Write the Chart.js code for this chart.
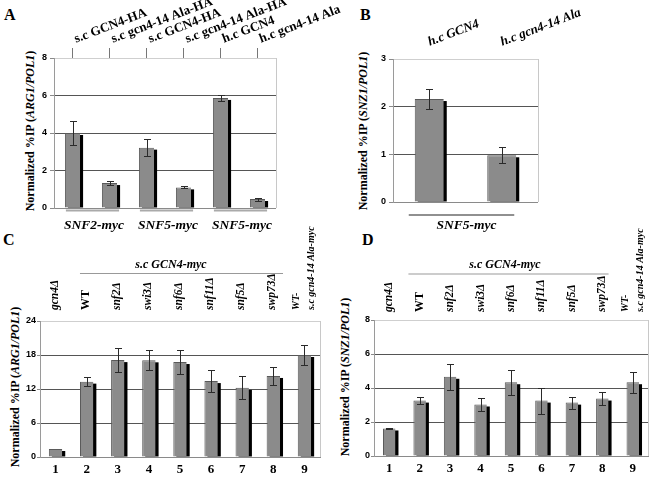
<!DOCTYPE html>
<html><head><meta charset="utf-8">
<script src="https://cdn.jsdelivr.net/npm/chart.js@4.4.1/dist/chart.umd.min.js"></script>
<style>
body{margin:0;background:#fff;width:652px;height:478px;position:relative;overflow:hidden;font-family:"Liberation Serif",serif;}
canvas{position:absolute;}
.letter{position:absolute;font:bold 16px "Liberation Serif",serif;color:#000;line-height:16px;}
.yt{position:absolute;font:bold 12px "Liberation Serif",serif;white-space:nowrap;transform:translate(-50%,-50%) rotate(-90deg);color:#000;}
</style></head><body>
<div class="letter" style="left:4px;top:7px">A</div>
<div class="letter" style="left:360px;top:7px">B</div>
<div class="letter" style="left:3px;top:232px">C</div>
<div class="letter" style="left:362px;top:232px">D</div>
<div class="yt" style="left:30px;top:131px">Normalized %IP (<i>ARG1/POL1</i>)</div>
<div class="yt" style="left:363px;top:131px">Normalized %IP (<i>SNZ1/POL1</i>)</div>
<div class="yt" style="left:15px;top:387px">Normalized %IP (<i>ARG1/POL1</i>)</div>
<div class="yt" style="left:345px;top:377px">Normalized %IP (<i>SNZ1/POL1</i>)</div>
<canvas id="cA" width="360" height="240" style="left:0;top:0"></canvas>
<canvas id="cB" width="322" height="240" style="left:330px;top:0"></canvas>
<canvas id="cC" width="330" height="253" style="left:0;top:225px"></canvas>
<canvas id="cD" width="322" height="253" style="left:330px;top:225px"></canvas>
<script>
// ---------- data ----------
const aTopLabels = ['s.c GCN4-HA','s.c gcn4-14 Ala-HA','s.c GCN4-HA','s.c gcn4-14 Ala-HA','h.c GCN4','h.c gcn4-14 Ala'];
const aValues = [4.0, 1.33, 3.22, 1.1, 5.87, 0.48];
const aErrors = [0.62, 0.12, 0.45, 0.05, 0.15, 0.08];
const aGroups = [{text:'SNF2-myc',from:0,to:1},{text:'SNF5-myc',from:2,to:3},{text:'SNF5-myc',from:4,to:5}];
const aYMax = 8, aYStep = 2;

const bTopLabels = ['h.c GCN4','h.c gcn4-14 Ala'];
const bValues = [2.16, 0.98];
const bErrors = [0.21, 0.17];
const bGroups = [{text:'SNF5-myc',from:0,to:1}];
const bYMax = 3, bYStep = 1;

const strainLabels = ['gcn4\u0394','WT','snf2\u0394','swi3\u0394','snf6\u0394','snf11\u0394','snf5\u0394','swp73\u0394',['WT-','s.c gcn4-14 Ala-myc']];
const laneNumbers = ['1','2','3','4','5','6','7','8','9'];
const strainGroups = [{text:'s.c GCN4-myc',from:1,to:7}];

const cValues = [1.41, 13.3, 17.1, 17.06, 16.76, 13.4, 12.2, 14.3, 18.0];
const cErrors = [0, 0.8, 2.1, 1.75, 2.05, 1.95, 2.05, 1.6, 1.7];
const cYMax = 24, cYStep = 6;

const dValues = [1.62, 3.26, 4.66, 3.03, 4.34, 3.26, 3.14, 3.38, 4.34];
const dErrors = [0.05, 0.23, 0.77, 0.38, 0.73, 0.76, 0.36, 0.4, 0.63];
const dYMax = 8, dYStep = 2;

// ---------- plugin: frame, shadow, error bars, group marks ----------
const decor = {
  id:'decor',
  beforeDraw(chart){
    const a=chart.chartArea,c=chart.ctx;
    c.save();c.strokeStyle='#c8c8c8';c.lineWidth=1;c.beginPath();
    const x=Math.round(a.right)+0.5;c.moveTo(x,a.top);c.lineTo(x,a.bottom);c.stroke();c.restore();
  },
  beforeDatasetsDraw(chart){
    const c=chart.ctx,meta=chart.getDatasetMeta(0);
    c.save();c.fillStyle='#000';
    meta.data.forEach(bar=>{
      c.fillRect(bar.x-bar.width/2+3,bar.y+2,bar.width,bar.base-bar.y-2);
    });
    c.restore();
  },
  afterDatasetsDraw(chart){
    const c=chart.ctx;
    const ds=chart.data.datasets[0],meta=chart.getDatasetMeta(0),ys=chart.scales.y;
    c.save();c.strokeStyle='#2a2a2a';c.lineWidth=1;
    meta.data.forEach((bar,i)=>{
      const e=ds.errors[i];if(!e)return;const v=ds.data[i];
      const x=Math.round(bar.x)+0.5;
      const y1=Math.round(ys.getPixelForValue(v+e))+0.5,y2=Math.round(ys.getPixelForValue(v-e))+0.5;
      c.beginPath();c.moveTo(x,y1);c.lineTo(x,y2);
      c.moveTo(x-3.5,y1);c.lineTo(x+3.5,y1);c.moveTo(x-3.5,y2);c.lineTo(x+3.5,y2);c.stroke();
    });
    c.restore();
  },
  afterDraw(chart){
    const o=chart.options.plugins.decor;if(!o||!o.groups)return;
    const c=chart.ctx,a=chart.chartArea,meta=chart.getDatasetMeta(0);
    const base=o.anchor==='top'?a.top:a.bottom;
    c.save();
    o.groups.forEach(g=>{
      const b1=meta.data[g.from],b2=meta.data[g.to];
      const x1=b1.x-b1.width/2+o.extL,x2=b2.x+b2.width/2+o.extR;
      c.strokeStyle=o.lineColor;c.lineWidth=o.lineWidth;c.beginPath();
      const ly=base+o.lineDy;c.moveTo(x1,ly);c.lineTo(x2,ly);c.stroke();
      c.fillStyle='#000';c.font=o.font;c.textAlign='center';c.textBaseline='middle';
      c.fillText(g.text,(b1.x+b2.x)/2+o.textDx,base+o.textDy);
    });
    c.restore();
  }
};

function makePanel(id,p){
  const yMax=p.yMax;
  const scales={
    x:{type:'category',labels:p.bottomLabels||p.topLabels.map(()=>''),position:'bottom',offset:true,
       display:!!p.bottomLabels,
       grid:{display:false,drawTicks:false},
       border:{display:true,color:'#8a8a8a'},
       ticks:{color:'#000',padding:5,font:{family:'"Liberation Serif"',weight:'bold',size:13}},
       afterFit(s){s.height=p.xH||0;s.paddingLeft=0;s.paddingRight=0;}},
    x2:{type:'category',labels:p.topLabels,position:'top',offset:true,
       grid:{display:!!p.topTicks,drawOnChartArea:false,drawTicks:!!p.topTicks,tickLength:p.topTicks||0,offset:false,color:'#777'},
       border:{display:false},
       ticks:{autoSkip:false,minRotation:p.rot,maxRotation:p.rot,padding:p.topPad,labelOffset:p.labelOffset||0,color:'#000',font:p.topFont},
       afterFit(s){s.height=p.x2H;s.paddingLeft=0;s.paddingRight=0;}},
    y:{min:0,max:yMax,
       ticks:{stepSize:p.yStep,color:'#000',padding:p.yPad,font:{family:'"Liberation Sans"',weight:'bold',size:9}},
       grid:{drawTicks:true,tickLength:p.yTick,tickColor:'#8a8a8a',
         color:(ctx)=>{const v=ctx.tick?ctx.tick.value:null;if(v===yMax)return '#cfcfcf';if(v===0)return p.bottomLabels?'rgba(0,0,0,0)':'#8a8a8a';return '#555';}},
       border:{display:true,color:'#9a9a9a'},
       afterFit(s){s.width=p.yW;s.paddingTop=0;s.paddingBottom=0;}}
  };
  return new Chart(document.getElementById(id),{
    type:'bar',
    data:{labels:p.topLabels.map((l,i)=>i),datasets:[{data:p.values,errors:p.errors,xAxisID:'x',
      backgroundColor:'#8b8b8b',borderColor:'#5a5a5a',borderWidth:{left:1,top:1,right:0,bottom:0},
      barPercentage:p.barPct,categoryPercentage:1}]},
    options:{responsive:false,animation:false,events:[],
      layout:{padding:{left:0,top:0,right:p.padR,bottom:p.padB||0}},
      plugins:{legend:{display:false},tooltip:{enabled:false},decor:p.decor},
      scales},
    plugins:[decor]
  });
}

makePanel('cA',{topLabels:aTopLabels,values:aValues,errors:aErrors,yMax:aYMax,yStep:aYStep,
  yW:54,x2H:58,padR:84,padB:32,rot:21,topPad:1,topTicks:10,labelOffset:8,yTick:4,yPad:3,barPct:0.41,
  topFont:{family:'"Liberation Serif"',weight:'bold',size:13},
  decor:{groups:aGroups,anchor:'bottom',lineDy:2.5,lineColor:'#aaaaaa',lineWidth:2,extL:1,extR:2,textDy:18,textDx:3,
    font:'italic bold 13.5px "Liberation Serif"'}});

makePanel('cB',{topLabels:bTopLabels,values:bValues,errors:bErrors,yMax:bYMax,yStep:bYStep,
  yW:63,x2H:59,padR:114,padB:38,rot:21,topPad:9,topTicks:0,labelOffset:5,yTick:4,yPad:3,barPct:0.4,
  topFont:{family:'"Liberation Serif"',weight:'bold',style:'italic',size:13},
  decor:{groups:bGroups,anchor:'bottom',lineDy:13,lineColor:'#222',lineWidth:1.2,extL:-6,extR:-2,textDy:24,textDx:1,
    font:'italic bold 13.5px "Liberation Serif"'}});

const strainFont=(ctx)=>{
  if(ctx.index===1)return {family:'"Liberation Serif"',weight:'bold',size:12,lineHeight:'23px'};
  if(ctx.index===8)return {family:'"Liberation Serif"',weight:'bold',style:'italic',size:10,lineHeight:'15px'};
  return {family:'"Liberation Serif"',weight:'bold',style:'italic',size:11.5,lineHeight:'23px'};
};

makePanel('cC',{topLabels:strainLabels,bottomLabels:laneNumbers,values:cValues,errors:cErrors,yMax:cYMax,yStep:cYStep,
  yW:40,x2H:96,xH:21,padR:10,rot:90,topPad:11,topTicks:0,labelOffset:22,yTick:3,yPad:1,barPct:0.43,topFont:strainFont,
  decor:{groups:strainGroups,anchor:'top',lineDy:-47.5,lineColor:'#999',lineWidth:1,extL:0,extR:3,textDy:-56,textDx:-9,
    font:'italic bold 12px "Liberation Serif"'}});

makePanel('cD',{topLabels:strainLabels,bottomLabels:laneNumbers,values:dValues,errors:dErrors,yMax:dYMax,yStep:dYStep,
  yW:44,x2H:95,xH:22,padR:4,rot:90,topPad:8,topTicks:0,labelOffset:23,yTick:3,yPad:1,barPct:0.41,topFont:strainFont,
  decor:{groups:strainGroups,anchor:'top',lineDy:-46,lineColor:'#999',lineWidth:1,extL:-5,extR:0,textDy:-55,textDx:-6,
    font:'italic bold 12px "Liberation Serif"'}});
</script>
</body></html>
